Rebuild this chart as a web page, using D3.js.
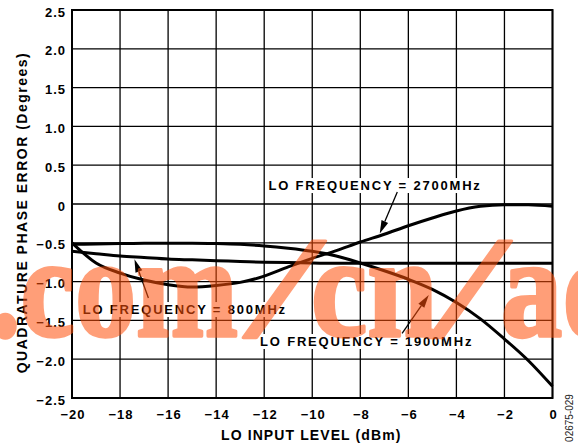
<!DOCTYPE html>
<html><head><meta charset="utf-8">
<script src="https://cdn.jsdelivr.net/npm/d3@7"></script>
<style>body{margin:0;background:#fff}svg{display:block}</style>
</head><body>
<svg id="c" width="578" height="446"></svg>
<script>
// ---- data ----
const levels  = [-20,-19,-18,-17,-16,-15,-14,-13,-12,-11,-10,-9,-8,-7,-6,-5,-4,-3,-2,-1,0];
const err800  = [-0.61,-0.64,-0.67,-0.69,-0.71,-0.72,-0.73,-0.74,-0.75,-0.755,-0.76,-0.765,-0.765,-0.765,-0.765,-0.765,-0.765,-0.765,-0.765,-0.765,-0.765];
const err1900 = [-0.52,-0.515,-0.51,-0.505,-0.505,-0.505,-0.51,-0.52,-0.54,-0.57,-0.61,-0.67,-0.76,-0.86,-0.97,-1.10,-1.27,-1.48,-1.74,-2.02,-2.35];
const err2700 = [-0.50,-0.76,-0.89,-0.98,-1.04,-1.07,-1.05,-1.01,-0.93,-0.81,-0.70,-0.60,-0.49,-0.39,-0.28,-0.18,-0.09,-0.03,-0.01,-0.01,-0.03];
const xTickValues = [-20,-18,-16,-14,-12,-10,-8,-6,-4,-2,0];
const yTickValues = [2.5,2.0,1.5,1.0,0.5,0,-0.5,-1.0,-1.5,-2.0,-2.5];
const labelTexts = ["LO FREQUENCY = 2700MHz","LO FREQUENCY = 800MHz","LO FREQUENCY = 1900MHz"];
const xTitle = "LO INPUT LEVEL (dBm)";
const yTitle = "QUADRATURE PHASE ERROR (Degrees)";
const figId = "02675-029";
const watermarkParts = [".com","/","cn","/","ad"];

// ---- layout ----
const W = 578, H = 446;
const m = {l:72, t:10, r:25.5, b:48};
const pw = W - m.l - m.r, ph = H - m.t - m.b;
const svg = d3.select("#c");
const x = d3.scaleLinear().domain([-20,0]).range([m.l, m.l+pw]);
const y = d3.scaleLinear().domain([-2.5,2.5]).range([m.t+ph, m.t]);
const FONT = "'Liberation Sans', Arial, Helvetica, sans-serif";

// grid
const g = svg.append("g");
g.selectAll(".vx").data(xTickValues).join("line")
  .attr("x1", d=>x(d)).attr("x2", d=>x(d)).attr("y1", m.t).attr("y2", m.t+ph)
  .attr("stroke","#000").attr("stroke-width",1.3);
g.selectAll(".hy").data(yTickValues).join("line")
  .attr("x1", m.l).attr("x2", m.l+pw).attr("y1", d=>y(d)).attr("y2", d=>y(d))
  .attr("stroke","#000").attr("stroke-width",1.3);

// axes (labels only)
const yFmt = v => v === 0 ? "0" : d3.format(".1f")(v);
const xAxis = d3.axisBottom(x).tickValues(xTickValues).tickFormat(d3.format("d")).tickSize(0).tickPadding(0);
const yAxis = d3.axisLeft(y).tickValues(yTickValues).tickFormat(yFmt).tickSize(0).tickPadding(0);
const xa = svg.append("g").attr("transform",`translate(0,${m.t+ph})`).call(xAxis);
const ya = svg.append("g").attr("transform",`translate(${m.l},0)`).call(yAxis);
[xa,ya].forEach(a=>{ a.select(".domain").remove();
  a.selectAll("text").attr("font-family",FONT).attr("font-weight","bold")
   .attr("font-size",13).attr("fill","#000").style("letter-spacing","1px"); });
xa.selectAll("text").attr("y",21).attr("dy",0).attr("dx","0.5px");
ya.selectAll("text").attr("x",-6).attr("dy",6);

// frame
svg.append("rect").attr("x",m.l).attr("y",m.t).attr("width",pw).attr("height",ph)
  .attr("fill","none").attr("stroke","#000").attr("stroke-width",2);

// curves
const line = d3.line().x(d=>x(d[0])).y(d=>y(d[1])).curve(d3.curveMonotoneX);
[err800, err1900, err2700].forEach(s=>{
  svg.append("path").datum(levels.map((l,i)=>[l,s[i]])).attr("d",line)
    .attr("fill","none").attr("stroke","#000").attr("stroke-width",3).attr("stroke-linejoin","round");
});

// annotations (data units)
const notes = [
  {text:labelTexts[0], at:[-11.82, 0.18], tail:[-6.46, 0.155], tip:[-7.19,-0.38]},
  {text:labelTexts[1], at:[-19.55,-1.418], tail:[-16.82,-1.211], tip:[-17.40,-0.713]},
  {text:labelTexts[2], at:[-12.17,-1.83], tail:[-6.26,-1.666], tip:[-5.15,-1.173]}
];
notes.forEach(n=>{
  const t = svg.append("text").attr("x",x(n.at[0])).attr("y",y(n.at[1]))
    .attr("font-family",FONT).attr("font-weight","bold").attr("font-size",13)
    .style("letter-spacing","1.8px").attr("fill","#000").text(n.text);
  const b = t.node().getBBox();
  svg.insert("rect", () => t.node()).attr("x",b.x-2).attr("y",b.y).attr("width",b.width+2).attr("height",b.height)
    .attr("fill","#fff");
  const x1=x(n.tail[0]), y1=y(n.tail[1]), x2=x(n.tip[0]), y2=y(n.tip[1]);
  const dx=x2-x1, dy=y2-y1, L=Math.hypot(dx,dy), ux=dx/L, uy=dy/L;
  const hl=13, hw=3.6;
  const bx=x2-ux*hl, by=y2-uy*hl;
  svg.append("line").attr("x1",x1).attr("y1",y1).attr("x2",bx).attr("y2",by)
    .attr("stroke","#000").attr("stroke-width",1.3);
  svg.append("path").attr("d",`M${x2},${y2}L${bx-uy*hw},${by+ux*hw}L${bx+uy*hw},${by-ux*hw}Z`).attr("fill","#000");
});

// axis titles
svg.append("text").attr("x", m.l+pw/2-1).attr("y",440).attr("text-anchor","middle")
  .attr("font-family",FONT).attr("font-weight","bold").attr("font-size",14)
  .style("letter-spacing","1.1px").text(xTitle);
svg.append("text").attr("transform","translate(27,212.5) rotate(-90)").attr("text-anchor","middle")
  .attr("font-family",FONT).attr("font-weight","bold").attr("font-size",14)
  .style("letter-spacing","1.5px").text(yTitle);
svg.append("text").attr("transform","translate(573,418) rotate(-90)").attr("text-anchor","middle")
  .attr("font-family",FONT).attr("font-size",10).attr("fill","#222").text(figId);

// watermark overlay
const wm = svg.append("g").attr("opacity",0.55).attr("fill","rgb(255,80,10)")
  .attr("stroke","rgb(255,80,10)").attr("stroke-width",3.5).attr("stroke-linejoin","round")
  .attr("font-family","'Liberation Serif','Times New Roman',serif").attr("font-weight","bold").attr("font-size",144);
const wmPlace = [
  {x:-10, sk:0,   sx:0.85},
  {x:246, sk:-16, sx:1.25},
  {x:311, sk:0,   sx:0.88},
  {x:432, sk:-16, sx:1.25},
  {x:501, sk:0,   sx:0.85}
];
watermarkParts.forEach((t,i)=>{
  const p = wmPlace[i];
  wm.append("text").attr("transform",`translate(${p.x},336) skewX(${p.sk}) scale(${p.sx},1)`).text(t);
});
</script>
</body></html>
